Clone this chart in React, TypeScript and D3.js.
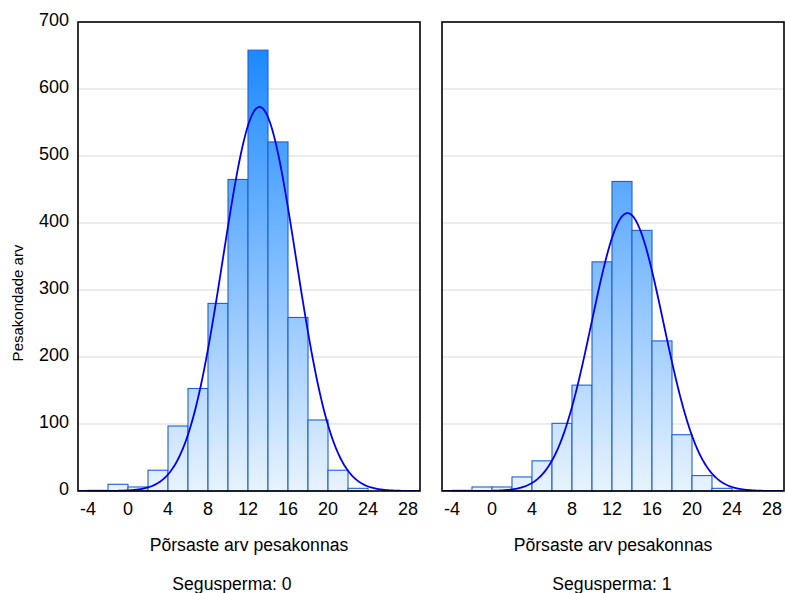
import React from 'react';
import * as d3 from 'd3';

// histogram bins (left edge of each 2-wide bin)
const BIN_STARTS = [-4, -2, 0, 2, 4, 6, 8, 10, 12, 14, 16, 18, 20, 22];
const BIN_WIDTH = 2;

// counts for Segusperma: 0 and Segusperma: 1
const COUNTS_0 = [1, 10, 6, 31, 97, 153, 280, 465, 658, 521, 259, 106, 31, 4];
const COUNTS_1 = [1, 6, 6, 21, 45, 101, 158, 342, 462, 389, 224, 84, 23, 4];

// fitted normal curve parameters
const FIT_0 = { mean: 13.15, sd: 3.65 };
const FIT_1 = { mean: 13.55, sd: 3.59 };

const Y_TICKS = [0, 100, 200, 300, 400, 500, 600, 700];
const X_TICKS = [-4, 0, 4, 8, 12, 16, 20, 24, 28];

const PANEL_LABELS = ['Segusperma: 0', 'Segusperma: 1'];
const X_TITLE = 'Põrsaste arv pesakonnas';
const Y_TITLE = 'Pesakondade arv';

const FONT = '"Liberation Sans", Arial, sans-serif';

const W = 785, H = 593;
const TOP = 22, BOTTOM = 491, PW = 342;
const PANEL_X = [78, 442];
const LABEL_X = [232, 612];

function Panel({ idx, counts, fit, showY }) {
  const x0 = PANEL_X[idx];
  const x = d3.scaleLinear().domain([-5, 29.2]).range([x0, x0 + PW]);
  const y = d3.scaleLinear().domain([0, 700]).range([BOTTOM, TOP]);

  const n = d3.sum(counts);
  const curvePts = d3.range(-5, 29.25, 0.1).map(v => {
    const z = (v - fit.mean) / fit.sd;
    return [v, n * BIN_WIDTH * Math.exp(-0.5 * z * z) / (fit.sd * Math.sqrt(2 * Math.PI))];
  });
  const line = d3.line().x(d => x(d[0])).y(d => y(d[1])).curve(d3.curveLinear);

  const gradId = `grad${idx}`;
  const clipId = `clip${idx}`;

  return (
    <g>
      <defs>
        <linearGradient id={gradId} gradientUnits="userSpaceOnUse" x1={0} y1={TOP} x2={0} y2={BOTTOM}>
          <stop offset="0%" stopColor="#0f82ff" />
          <stop offset="100%" stopColor="#e8f3ff" />
        </linearGradient>
        <clipPath id={clipId}>
          <rect x={x0} y={TOP} width={PW} height={BOTTOM - TOP} />
        </clipPath>
      </defs>

      {/* Grid */}
      {Y_TICKS.filter(t => t > 0 && t < 700).map(t => (
        <line key={t} x1={x0} x2={x0 + PW} y1={y(t)} y2={y(t)} stroke="#d9d9d9" strokeWidth={1} />
      ))}

      {/* Bars */}
      {counts.map((c, i) => (
        <rect key={i}
          x={x(BIN_STARTS[i])}
          y={y(c)}
          width={x(BIN_STARTS[i] + BIN_WIDTH) - x(BIN_STARTS[i])}
          height={BOTTOM - y(c)}
          fill={`url(#${gradId})`}
          stroke="#1f5fd6"
          strokeWidth={1.1} />
      ))}

      {/* Normal fit */}
      <path d={line(curvePts)} fill="none" stroke="#0000ee" strokeWidth={1.8} clipPath={`url(#${clipId})`} />

      {/* Frame */}
      <rect x={x0} y={TOP} width={PW} height={BOTTOM - TOP} fill="none" stroke="#000" strokeWidth={1.6} />

      {/* Y tick labels */}
      {showY && Y_TICKS.map(t => (
        <text key={t} x={x0 - 9} y={y(t) + 3.5} textAnchor="end" fontSize={18} fontFamily={FONT} fill="#000">{t}</text>
      ))}

      {/* X tick labels */}
      {X_TICKS.map(t => (
        <text key={t} x={x(t)} y={515} textAnchor="middle" fontSize={18} fontFamily={FONT} fill="#000">{t}</text>
      ))}

      <text x={x0 + PW / 2} y={551} textAnchor="middle" fontSize={17.6} fontFamily={FONT} fill="#000">{X_TITLE}</text>
      <text x={LABEL_X[idx]} y={590} textAnchor="middle" fontSize={17.6} fontFamily={FONT} fill="#000">{PANEL_LABELS[idx]}</text>
    </g>
  );
}

export default function App() {
  return (
    <svg width={W} height={H} style={{ position: 'absolute', left: 0, top: 0, background: '#fff' }}>
      <rect width={W} height={H} fill="#fff" />
      <Panel idx={0} counts={COUNTS_0} fit={FIT_0} showY={true} />
      <Panel idx={1} counts={COUNTS_1} fit={FIT_1} showY={false} />
      <text transform={`translate(23,303) rotate(-90)`} textAnchor="middle" fontSize={15} fontFamily={FONT} fill="#000">{Y_TITLE}</text>
    </svg>
  );
}
